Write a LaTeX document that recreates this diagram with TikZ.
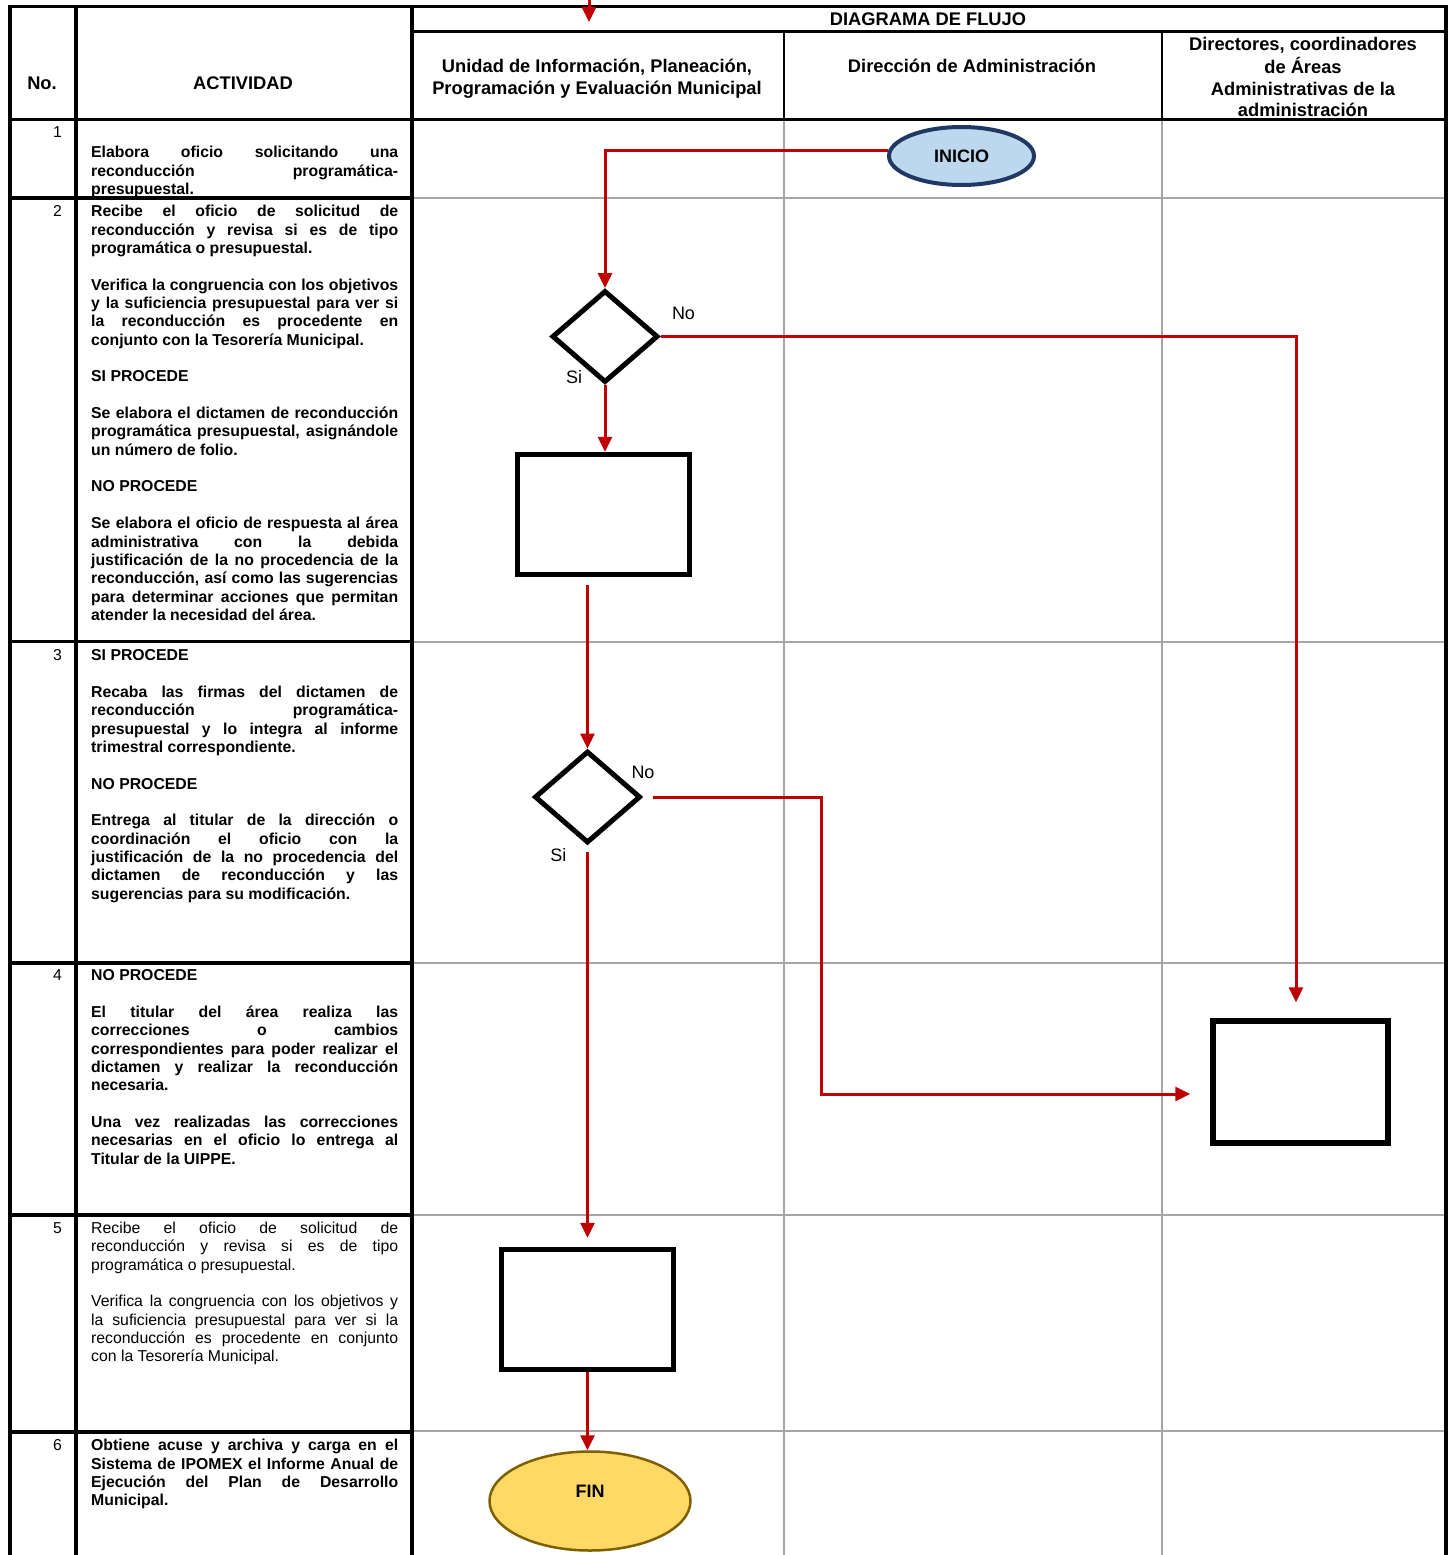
\documentclass[tikz,border=0pt]{standalone}
\usepackage{fontspec}
\setmainfont{Liberation Sans}
\usetikzlibrary{arrows.meta,shapes.geometric,calc}

\definecolor{flowred}{HTML}{C00000}
\definecolor{gridgray}{HTML}{A6A6A6}
\definecolor{startfill}{HTML}{BDD7EE}
\definecolor{startline}{HTML}{203864}
\definecolor{endfill}{HTML}{FFD966}
\definecolor{endline}{HTML}{7F6000}

% justified activity text: one vtop whose baseline is the first line
\newcommand{\actblock}[1]{\vtop{\hsize=307pt\parindent=0pt\leftskip=0pt\rightskip=0pt
  \parfillskip=0pt plus 1fil\parskip=18.35pt\baselineskip=18.35pt
  \pretolerance=-1\tolerance=10000\hyphenpenalty=10000\hbadness=10000\hfuzz=4pt
  #1\par}}
\newcommand{\headlines}[1]{\begin{tabular}[t]{@{}c@{}}#1\end{tabular}}

\tikzset{
  heavyrule/.style={line width=3.8pt, line cap=rect},
  midrule/.style={line width=3.2pt, line cap=rect},
  lanerule/.style={line width=1.5pt},
  gridline/.style={draw=gridgray, line width=2pt},
  flow/.style={draw=flowred, line width=3pt, -{Triangle[length=15pt,width=14pt]}},
  headtxt/.style={font=\fontsize{18.3}{21.8}\selectfont\bfseries, inner sep=0pt, anchor=base},
  numtxt/.style={font=\fontsize{15.8}{18.35}\selectfont, inner sep=0pt, anchor=base east},
  acttxt/.style={font=\fontsize{15.8}{18.35}\selectfont\bfseries, inner sep=0pt, anchor=base west},
  actplain/.style={acttxt, font=\fontsize{15.8}{18.35}\selectfont},
  branch/.style={font=\fontsize{18}{21}\selectfont, inner sep=0pt},
  decision/.style={diamond, draw=black, line width=5pt, minimum width=106pt, minimum height=92pt, inner sep=0pt},
  stepbox/.style={rectangle, draw=black, line width=5.5pt, minimum width=172pt, minimum height=120pt, inner sep=0pt},
  startnode/.style={ellipse, draw=startline, fill=startfill, line width=4pt, minimum width=145pt,
    minimum height=58pt, inner sep=0pt, font=\fontsize{18}{21}\selectfont\bfseries},
  endnode/.style={ellipse, draw=endline, fill=endfill, line width=2.5pt, minimum width=201pt,
    minimum height=99pt, inner sep=0pt},
  endtxt/.style={font=\fontsize{18}{21}\selectfont\bfseries, inner sep=0pt},
}

\begin{document}
\begin{tikzpicture}[x=1pt, y=-1pt]
\useasboundingbox (0,0) rectangle (1449,1555);
\fill[white] (0,0) rectangle (1449,1555);

% ---- lane grid (gray) ----
\foreach \gy in {197.5, 641.5, 962.5, 1215, 1431}
  \draw[gridline] (411,\gy) -- (1446,\gy);
\foreach \gx in {784, 1162}
  \draw[gridline] (\gx,120) -- (\gx,1560);
\foreach \gx in {784, 1162}
  \draw[lanerule] (\gx,31.5) -- (\gx,119);

% ---- table frame ----
\draw[heavyrule] (10,6.5) -- (1446,6.5);
\draw[heavyrule] (10,119.5) -- (1446,119.5);
\draw[midrule] (412,31.5) -- (1446,31.5);
\foreach \fx in {10, 76, 412, 1446}
  \draw[heavyrule] (\fx,6.5) -- (\fx,1565);
\foreach \ry in {198, 641.5, 963, 1215, 1432}
  \draw[heavyrule] (10,\ry) -- (412,\ry);

% ---- headings ----
\node[headtxt] (hno) at (42,89.3) {No.};
\node[headtxt] (hact) at (243,89.3) {ACTIVIDAD};
\node[headtxt] (hflujo) at (928,25.5) {DIAGRAMA DE FLUJO};
\node[headtxt] (hlaneA) at (597,72.5) {\headlines{Unidad de Información, Planeación,\\Programación y Evaluación Municipal}};
\node[headtxt] (hlaneB) at (972,72.5) {Dirección de Administración};
\node[headtxt] (hlaneC) at (1303,50.5) {\headlines{Directores, coordinadores\\de Áreas\\Administrativas de la\\administración}};

% ---- step numbers ----
\node[numtxt] (n1) at (62,137.3) {1};
\node[numtxt] (n2) at (62,216.7) {2};
\node[numtxt] (n3) at (62,660.7) {3};
\node[numtxt] (n4) at (62,980.7) {4};
\node[numtxt] (n5) at (62,1233.3) {5};
\node[numtxt] (n6) at (62,1450.7) {6};

% ---- activities ----
\node[acttxt] (a1) at (91,157.8) {\actblock{Elabora oficio solicitando una\linebreak
reconducción programática-\linebreak presupuestal.}};

\node[acttxt] (a2) at (91,216.7) {\actblock{Recibe el oficio de solicitud de\linebreak
reconducción y revisa si es de tipo\linebreak programática o presupuestal.

Verifica la congruencia con los objetivos\linebreak y la suficiencia presupuestal para ver si\linebreak
la reconducción es procedente en\linebreak conjunto con la Tesorería Municipal.

SI PROCEDE

Se elabora el dictamen de reconducción\linebreak programática presupuestal, asignándole\linebreak
un número de folio.

NO PROCEDE

Se elabora el oficio de respuesta al área\linebreak administrativa con la debida\linebreak
justificación de la no procedencia de la\linebreak reconducción, así como las sugerencias\linebreak
para determinar acciones que permitan\linebreak atender la necesidad del área.}};

\node[acttxt] (a3) at (91,660.7) {\actblock{SI PROCEDE

Recaba las firmas del dictamen de\linebreak reconducción programática-\linebreak
presupuestal y lo integra al informe\linebreak trimestral correspondiente.

NO PROCEDE

Entrega al titular de la dirección o\linebreak coordinación el oficio con la\linebreak
justificación de la no procedencia del\linebreak dictamen de reconducción y las\linebreak
sugerencias para su modificación.}};

\node[acttxt] (a4) at (91,980.7) {\actblock{NO PROCEDE

El titular del área realiza las\linebreak correcciones o cambios\linebreak
correspondientes para poder realizar el\linebreak dictamen y realizar la reconducción\linebreak
necesaria.

Una vez realizadas las correcciones\linebreak necesarias en el oficio lo entrega al\linebreak
Titular de la UIPPE.}};

\node[actplain] (a5) at (91,1233.3) {\actblock{Recibe el oficio de solicitud de\linebreak
reconducción y revisa si es de tipo\linebreak programática o presupuestal.

Verifica la congruencia con los objetivos y\linebreak la suficiencia presupuestal para ver si la\linebreak
reconducción es procedente en conjunto\linebreak con la Tesorería Municipal.}};

\node[acttxt] (a6) at (91,1450.7) {\actblock{Obtiene acuse y archiva y carga en el\linebreak
Sistema de IPOMEX el Informe Anual de\linebreak Ejecución del Plan de Desarrollo\linebreak
Municipal.}};

% ---- flow chart shapes ----
\node[startnode] (inicio) at (961.5,156) {INICIO};
\node[decision] (d1) at (605,336.5) {};
\node[stepbox] (box1) at (603.5,514.5) {};
\node[decision] (d2) at (587.5,797) {};
\node[stepbox] (box2) at (587.5,1309.5) {};
\node[stepbox, minimum width=175pt, minimum height=122pt] (box3) at (1300.5,1082) {};
\node[endnode] (fin) at (590,1501) {};
\node[endtxt] (fintext) at (590,1491) {FIN};

% ---- branch labels ----
\node[branch] (no1) at (683.5,313.5) {No};
\node[branch] (si1) at (574,377) {Si};
\node[branch] (no2) at (643,772.7) {No};
\node[branch] (si2) at (558.3,855) {Si};

% ---- connectors ----
\coordinate (entry) at (589,-10);
\coordinate (entrytip) at (589,22);
\coordinate (k1) at (1296,336.5);
\coordinate (k2) at (821,1094);

\draw[flow] (entry) -- (entrytip);
\draw[flow] (inicio.176) -| (d1.north);
\draw[flow] (d1.south) -- (d1.south |- box1.north);
\draw[flow] (d1.east) -- (k1) -- (k1 |- box3.north) [shorten >=16pt];
\draw[flow, shorten <=8pt] (d2.north |- box1.south) -- (d2.north);
\draw[flow, shorten <=10pt, shorten >=20pt] (d2.east) -| (k2) -- (k2 -| box3.west);
\draw[flow, shorten <=6pt, shorten >=9pt] (d2.south) -- (box2.north);
\draw[flow] (box2.south) -- (box2.south |- fin.north);
\end{tikzpicture}
\end{document}
